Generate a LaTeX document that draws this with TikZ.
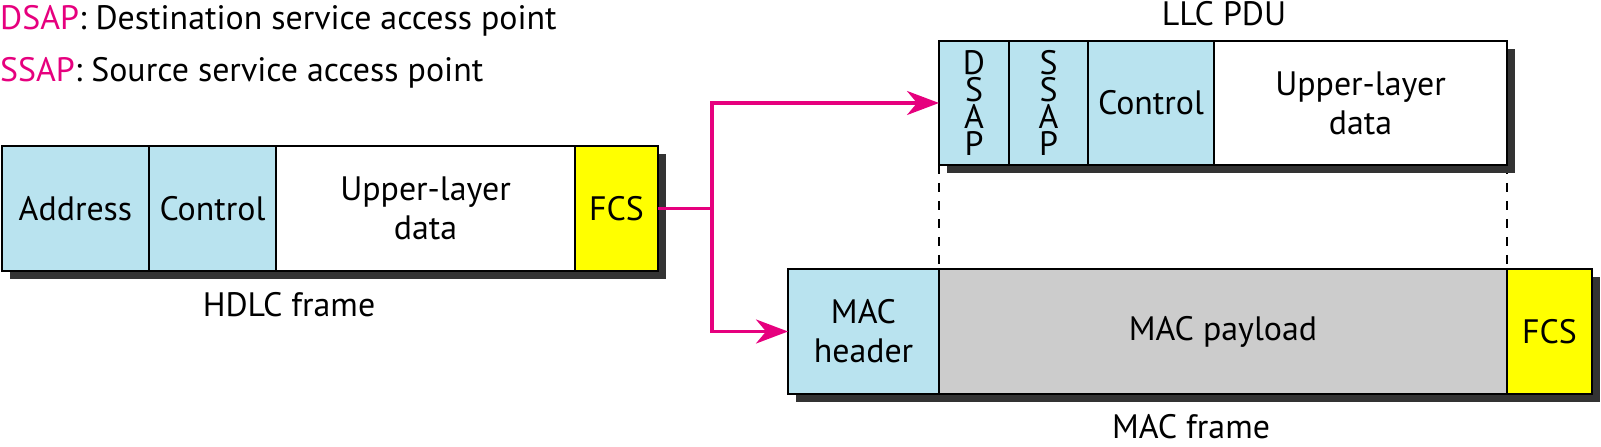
\documentclass[tikz,border=0pt]{standalone}
\usepackage{fontspec}
\setmainfont{PT Sans}
\usetikzlibrary{arrows.meta}
\definecolor{lblue}{HTML}{B9E3EF}
\definecolor{fyellow}{HTML}{FFFF00}
\definecolor{pgray}{HTML}{CCCCCC}
\definecolor{mag}{HTML}{E6007E}
\definecolor{shad}{HTML}{333333}
\newcommand{\fs}{\fontsize{34}{39}\selectfont}
\newcommand{\fsv}{\fontsize{34}{27}\selectfont}
\tikzset{
  cell/.style={draw, line width=2.5bp, inner sep=0pt, outer sep=0pt, anchor=north west, font=\fs, align=center},
  bcell/.style={cell, fill=lblue},
  ycell/.style={cell, fill=fyellow},
  wcell/.style={cell, fill=white},
  gcell/.style={cell, fill=pgray},
  shadowbox/.style={fill=shad},
  mline/.style={draw=mag, line width=3.3bp},
  marrow/.style={mline, -{Stealth[length=32bp, width=24bp, inset=10bp]}},
  dashline/.style={draw=black, line width=2.2bp, dash pattern=on 9bp off 9bp},
  lbl/.style={font=\fs, inner sep=0pt}
}
\begin{document}
\begin{tikzpicture}[x=1bp, y={(0bp,-1bp)}]
\useasboundingbox (0,0) rectangle (1601,447);

% legend
\node[lbl, anchor=west] (leg1) at (0,21) {\textcolor{mag}{DSAP}: Destination service access point};
\node[lbl, anchor=west] (leg2) at (0,73) {\textcolor{mag}{SSAP}: Source service access point};

% dashed guide lines (behind)
\coordinate (d1t) at (939,165);
\coordinate (d1b) at (939,269);
\coordinate (d2t) at (1507,165);
\coordinate (d2b) at (1507,269);
\draw[dashline] (d1t) -- (d1b);
\draw[dashline] (d2t) -- (d2b);

% shadows
\fill[shadowbox] (10,154) rectangle (666,279);
\fill[shadowbox] (947,49) rectangle (1515,173);
\fill[shadowbox] (796,277) rectangle (1600,402);

% HDLC frame
\node[bcell, minimum width=147bp, minimum height=125bp] (addr) at (2,146) {Address};
\node[bcell, minimum width=127bp, minimum height=125bp] (ctrl) at (149,146) {Control};
\node[wcell, minimum width=299bp, minimum height=125bp] (upper) at (276,146) {Upper-layer\\data};
\node[ycell, minimum width=83bp, minimum height=125bp] (fcs) at (575,146) {FCS};
\node[lbl] (hdlc) at (289,305) {HDLC frame};

% LLC PDU
\node[bcell, minimum width=70bp, minimum height=124bp, font=\fsv] (dsap) at (939,41) {D\\S\\A\\P};
\node[bcell, minimum width=79bp, minimum height=124bp, font=\fsv] (ssap) at (1009,41) {S\\S\\A\\P};
\node[bcell, minimum width=126bp, minimum height=124bp] (ctrl2) at (1088,41) {Control};
\node[wcell, minimum width=293bp, minimum height=124bp] (upper2) at (1214,41) {Upper-layer\\data};
\node[lbl] (llc) at (1224,14) {LLC PDU};

% MAC frame
\node[bcell, minimum width=151bp, minimum height=125bp] (machdr) at (788,269) {MAC\\header};
\node[gcell, minimum width=568bp, minimum height=125bp] (payload) at (939,269) {MAC payload};
\node[ycell, minimum width=85bp, minimum height=125bp] (fcs2) at (1507,269) {FCS};
\node[lbl] (macf) at (1191,427) {MAC frame};

% connectors
\coordinate (jx) at (712,0);
\draw[mline] (fcs.east) -- (fcs.east -| jx) coordinate (junc);
\draw[marrow] (junc) |- (dsap.west);
\draw[marrow] (junc) |- (machdr.west);
\end{tikzpicture}
\end{document}
